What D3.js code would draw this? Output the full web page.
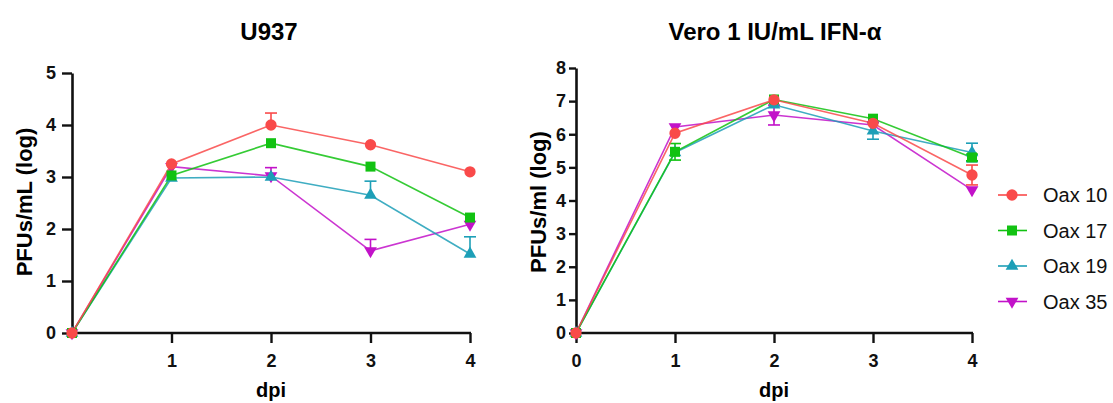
<!DOCTYPE html>
<html>
<head>
<meta charset="utf-8">
<script src="https://cdn.jsdelivr.net/npm/d3@7"></script>
<style>
  body { margin: 0; background: #fff; }
  svg { font-family: "Liberation Sans", Arial, sans-serif; }
</style>
</head>
<body>
<script>
// days post infection
const days = [0, 1, 2, 3, 4];
const seriesNames = ["Oax 10", "Oax 17", "Oax 19", "Oax 35"];
const colors = ["#f94a4a", "#12c212", "#1d9fb7", "#c212c9"];
const shapes = ["circle", "square", "triangle", "down"];

// U937 (log PFU/mL), mean and error
const u937_oax10 = [0, 3.25, 4.0, 3.62, 3.1];
const u937_oax17 = [0, 3.03, 3.65, 3.2, 2.22];
const u937_oax19 = [0, 2.98, 3.0, 2.65, 1.52];
const u937_oax35 = [0, 3.2, 3.02, 1.58, 2.09];
const u937_err10 = [0, 0, 0.23, 0, 0];
const u937_err17 = [0, 0, 0, 0, 0];
const u937_err19 = [0, 0, 0, 0.27, 0.33];
const u937_err35 = [0, 0, 0.16, 0.22, 0];

// Vero 1 IU/mL IFN-a
const vero_oax10 = [0, 6.03, 7.04, 6.33, 4.77];
const vero_oax17 = [0, 5.47, 7.05, 6.47, 5.30];
const vero_oax19 = [0, 5.45, 6.89, 6.1, 5.45];
const vero_oax35 = [0, 6.22, 6.58, 6.28, 4.32];
const vero_err10 = [0, 0, 0, 0, 0.3];
const vero_err17 = [0, 0.25, 0, 0, 0.1];
const vero_err19 = [0, 0, 0, 0.25, 0.28];
const vero_err35 = [0, 0, 0.3, 0, 0];

const width = 1113, height = 403;
const svg = d3.select("body").append("svg")
  .attr("width", width).attr("height", height);

const symbolFor = {
  circle: d3.symbol(d3.symbolCircle, 100),
  square: d3.symbol(d3.symbolSquare, 100),
  triangle: d3.symbol(d3.symbolTriangle, 70),
  down: d3.symbol(d3.symbolTriangle, 70)
};
function marker(g, shape, color, x, y) {
  g.append("path")
    .attr("d", symbolFor[shape]())
    .attr("fill", color)
    .attr("transform", `translate(${x},${y})` + (shape === "down" ? " rotate(180)" : ""));
}

function panel(opts) {
  const x = d3.scaleLinear().domain([0, 4]).range(opts.xRange);
  const y = d3.scaleLinear().domain([0, opts.yMax]).range([333, opts.yTop]);
  const g = svg.append("g");

  // axes
  const xAxis = g.append("g").attr("transform", "translate(0,333)")
    .call(d3.axisBottom(x).tickValues(opts.xTicks).tickFormat(d3.format("d"))
      .tickSize(10).tickPadding(11).tickSizeOuter(0));
  const yAxis = g.append("g").attr("transform", `translate(${opts.xRange[0]},0)`)
    .call(d3.axisLeft(y).ticks(opts.yMax).tickFormat(d3.format("d"))
      .tickSize(opts.yTick).tickPadding(opts.yPad).tickSizeOuter(0));
  [xAxis, yAxis].forEach(a => {
    a.select(".domain").attr("stroke", "#111").attr("stroke-width", 2.6);
    a.selectAll(".tick line").attr("stroke", "#111").attr("stroke-width", 2.4);
    a.selectAll(".tick text").attr("fill", "#111")
      .style("font-size", "18px").style("font-weight", "bold");
  });
  xAxis.select(".domain").attr("d", `M${opts.xRange[0]},0H${opts.xRange[1] + 1}`);

  // series
  const line = d3.line().x((d, i) => x(days[i])).y(d => y(d));
  const order = [3, 2, 1, 0];
  order.forEach(k => {
    const vals = opts.values[k], errs = opts.errors[k], c = colors[k];
    g.append("path").datum(vals)
      .attr("d", line).attr("fill", "none")
      .attr("stroke", c).attr("stroke-width", 1.6).attr("stroke-opacity", 0.85);
    vals.forEach((v, i) => {
      if (errs[i] > 0) {
        const lo = opts.bothWays ? v - errs[i] : v;
        const hi = v + errs[i];
        const ends = opts.bothWays ? [lo, hi] : [hi];
        g.append("line").attr("x1", x(days[i])).attr("x2", x(days[i]))
          .attr("y1", y(lo)).attr("y2", y(hi))
          .attr("stroke", c).attr("stroke-width", 1.6);
        ends.forEach(e => g.append("line")
          .attr("x1", x(days[i]) - 6).attr("x2", x(days[i]) + 6)
          .attr("y1", y(e)).attr("y2", y(e))
          .attr("stroke", c).attr("stroke-width", 1.6));
      }
    });
  });
  order.forEach(k => {
    opts.values[k].forEach((v, i) => marker(g, shapes[k], colors[k], x(days[i]), y(v)));
  });

  const cx = (opts.xRange[0] + opts.xRange[1]) / 2;
  svg.append("text").attr("x", opts.titleX).attr("y", 40)
    .attr("text-anchor", "middle").style("font-size", "24px").style("font-weight", "bold")
    .text(opts.title);
  svg.append("text").attr("x", cx).attr("y", 397)
    .attr("text-anchor", "middle").style("font-size", "20px").style("font-weight", "bold")
    .text("dpi");
  svg.append("text")
    .attr("transform", `translate(${opts.yLabelX},202) rotate(-90)`)
    .attr("text-anchor", "middle").style("font-size", "22px").style("font-weight", "bold")
    .text(opts.yLabel);
}

panel({
  xRange: [72, 470], yMax: 5, yTop: 73, xTicks: [1, 2, 3, 4], yTick: 10, yPad: 6,
  values: [u937_oax10, u937_oax17, u937_oax19, u937_oax35],
  errors: [u937_err10, u937_err17, u937_err19, u937_err35],
  bothWays: false, title: "U937", titleX: 269,
  yLabel: "PFUs/mL (log)", yLabelX: 32
});
panel({
  xRange: [576, 972], yMax: 8, yTop: 68, xTicks: [0, 1, 2, 3, 4], yTick: 7, yPad: 3,
  values: [vero_oax10, vero_oax17, vero_oax19, vero_oax35],
  errors: [vero_err10, vero_err17, vero_err19, vero_err35],
  bothWays: true, title: "Vero 1 IU/mL IFN-\u03b1", titleX: 775,
  yLabel: "PFUs/ml (log)", yLabelX: 546
});

// legend
const legend = svg.append("g");
seriesNames.forEach((name, k) => {
  const yy = 195 + k * 35.5;
  legend.append("line").attr("x1", 998).attr("x2", 1027).attr("y1", yy).attr("y2", yy)
    .attr("stroke", colors[k]).attr("stroke-width", 1.6);
  marker(legend, shapes[k], colors[k], 1012, yy);
  legend.append("text").attr("x", 1043).attr("y", yy + 7)
    .style("font-size", "20px").attr("fill", "#111").text(name);
});
</script>
</body>
</html>
